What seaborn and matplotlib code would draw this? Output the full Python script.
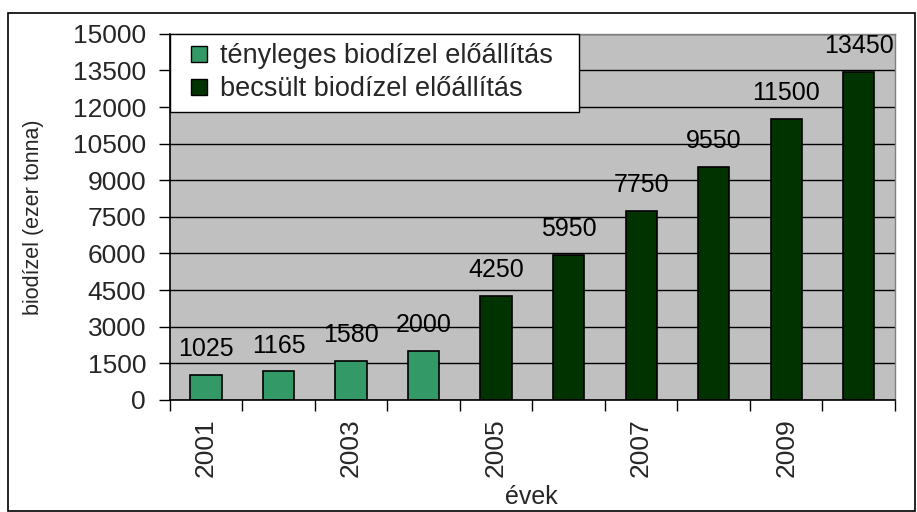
import numpy as np
import pandas as pd
import matplotlib
matplotlib.use('Agg')
import matplotlib.pyplot as plt
import seaborn as sns
from matplotlib.patches import Rectangle
from matplotlib.lines import Line2D

# chart data
years = [2001, 2002, 2003, 2004, 2005, 2006, 2007, 2008, 2009, 2010]
production = [1025, 1165, 1580, 2000, 4250, 5950, 7750, 9550, 11500, 13450]
series = ['tényleges biodízel előállítás'] * 4 + ['becsült biodízel előállítás'] * 6
series_order = ['tényleges biodízel előállítás', 'becsült biodízel előállítás']
colors = ['#339966', '#003300']
y_ticks = list(range(0, 15001, 1500))
x_tick_labels = ['2001', '2003', '2005', '2007', '2009']

sns.set_theme(style='white')
plt.rcParams['font.family'] = ['Liberation Sans', 'DejaVu Sans']

df = pd.DataFrame({'ev': [str(y) for y in years],
                   'biodizel': production,
                   'tipus': series})

fig = plt.figure(figsize=(9.17, 5.12), dpi=100)
ax = fig.add_axes([0.185, 0.219, 0.791, 0.715])
ax.set_facecolor('#C0C0C0')

sns.barplot(data=df, x='ev', y='biodizel', hue='tipus', hue_order=series_order,
            palette=colors, saturation=1, dodge=False, width=0.43,
            edgecolor='black', linewidth=1.2, errorbar=None, legend=False, ax=ax)

# value labels on top of the bars
for c in ax.containers:
    ax.bar_label(c, labels=[f'{int(round(b.get_height()))}' for b in c],
                 padding=10, fontsize=18, color='black')

# y axis
ax.set_ylim(0, 15000)
ax.set_yticks(y_ticks)
ax.set_yticklabels([str(v) for v in y_ticks], fontsize=19)
ax.yaxis.grid(True, color='black', linewidth=1)
ax.set_axisbelow(True)
ax.tick_params(axis='y', direction='out', length=8, width=1, color='black',
               left=True, pad=9)

# x axis: tick marks between categories, labels on every second year
ax.set_xlim(-0.5, 9.5)
ax.set_xticks(np.arange(-0.5, 10, 1))
ax.set_xticklabels([''] * 11)
ax.tick_params(axis='x', which='major', direction='out', length=8, width=1,
               color='black', bottom=True)
ax.set_xticks([0, 2, 4, 6, 8], minor=True)
ax.set_xticklabels(x_tick_labels, minor=True, rotation=90, fontsize=19)
ax.tick_params(axis='x', which='minor', length=0, pad=13)

ax.set_xlabel('')
ax.set_ylabel('')
fig.text(0.036, 0.576, 'biodízel (ezer tonna)', rotation=90, ha='center', va='center', fontsize=15.5)
fig.text(0.58, 0.029, 'évek', ha='center', va='center', fontsize=18)

for s in ['left', 'bottom']:
    ax.spines[s].set_color('black')
    ax.spines[s].set_linewidth(1.2)
for s in ['top', 'right']:
    ax.spines[s].set_color('#808080')
    ax.spines[s].set_linewidth(1)

# legend with small square keys
handles = [Line2D([], [], linestyle='none', marker='s', markersize=11,
                  markerfacecolor=col, markeredgecolor='black', markeredgewidth=1)
           for col in colors]
leg = ax.legend(handles, series_order, loc='upper left', bbox_to_anchor=(0, 1, 0.564, 0),
                mode='expand', borderaxespad=0, frameon=True, fancybox=False,
                edgecolor='black', framealpha=1, fontsize=19.5, handlelength=1.45,
                handletextpad=0.05, labelspacing=0.25, borderpad=0.35)
leg.get_frame().set_linewidth(1)

# outer chart border
fig.patches.append(Rectangle((8 / 917, 0.002), 1 - 10 / 917, 1 - 13 / 512 - 0.002,
                             transform=fig.transFigure, fill=False,
                             edgecolor='black', linewidth=1.2))

fig.savefig('out.png', dpi=100)
